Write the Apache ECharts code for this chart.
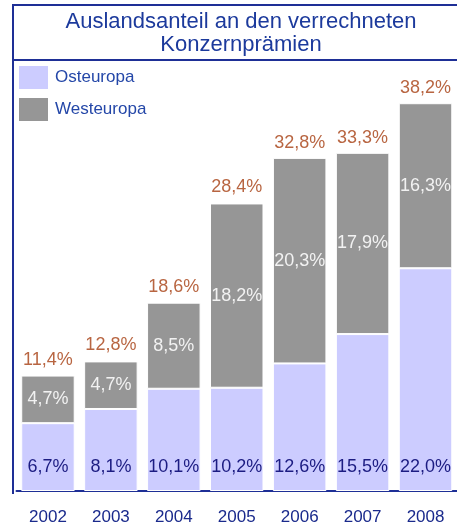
<!DOCTYPE html>
<html>
<head>
<meta charset="utf-8">
<script src="https://cdn.jsdelivr.net/npm/echarts@6/dist/echarts.min.js"></script>
<style>
  html, body { margin: 0; padding: 0; background: #fff; }
  #chart { width: 457px; height: 526px; }
</style>
</head>
<body>
<div id="chart"></div>
<script>
// Daten (Prozent)
const years = ['2002', '2003', '2004', '2005', '2006', '2007', '2008']
const osteuropa = [6.7, 8.1, 10.1, 10.2, 12.6, 15.5, 22.0]
const westeuropa = [4.7, 4.7, 8.5, 18.2, 20.3, 17.9, 16.3]
const gesamt = [11.4, 12.8, 18.6, 28.4, 32.8, 33.3, 38.2]

const fmt = v => v.toFixed(1).replace('.', ',') + '%'
const font = 'Liberation Sans'
const frame = '#1e2f96'

const chart = echarts.init(document.getElementById('chart'))
chart.setOption({
  animation: false,
  title: {
    text: 'Auslandsanteil an den verrechneten\nKonzernprämien',
    left: 236,
    top: 5,
    textAlign: 'center',
    textStyle: {
      fontFamily: font,
      fontSize: 22,
      fontWeight: 'normal',
      lineHeight: 23,
      color: '#1c3a9c'
    }
  },
  legend: {
    data: ['Osteuropa', 'Westeuropa'],
    orient: 'vertical',
    left: 19,
    top: 66,
    padding: 0,
    itemWidth: 29,
    itemHeight: 23,
    itemGap: 9,
    icon: 'rect',
    itemStyle: { borderWidth: 0 },
    textStyle: {
      fontFamily: font,
      fontSize: 17,
      color: '#2447a8',
      padding: [0, 0, 0, 2]
    }
  },
  grid: { left: 16.5, right: 0, top: 86, bottom: 34 },
  xAxis: {
    type: 'category',
    data: years,
    axisLine: { lineStyle: { color: frame, width: 2 } },
    axisTick: { length: 5, lineStyle: { color: frame, width: 1.5 } },
    axisLabel: {
      fontFamily: font,
      fontSize: 17,
      color: '#1a2a8c',
      margin: 18
    }
  },
  yAxis: { type: 'value', min: 0, max: 40, show: false },
  // Rahmen um Titel + linke Achse
  graphic: [
    { type: 'line', shape: { x1: 13, y1: 5, x2: 457, y2: 5 }, style: { stroke: frame, lineWidth: 2 } },
    { type: 'line', shape: { x1: 13, y1: 60, x2: 457, y2: 60 }, style: { stroke: frame, lineWidth: 2 } },
    { type: 'line', shape: { x1: 13, y1: 4, x2: 13, y2: 494 }, style: { stroke: frame, lineWidth: 2 } }
  ],
  series: [
    {
      name: 'Osteuropa',
      type: 'bar',
      stack: 'ausland',
      data: osteuropa,
      barCategoryGap: '15%',
      itemStyle: { color: '#ccccff', borderColor: '#fff', borderWidth: 1 },
      label: {
        show: true,
        position: 'insideBottom',
        distance: 15,
        formatter: p => fmt(p.value),
        fontFamily: font,
        fontSize: 18,
        color: '#1c1c82'
      }
    },
    {
      name: 'Westeuropa',
      type: 'bar',
      stack: 'ausland',
      data: westeuropa,
      itemStyle: { color: '#969696', borderColor: '#fff', borderWidth: 1 },
      label: {
        show: true,
        position: 'inside',
        formatter: p => fmt(p.value),
        fontFamily: font,
        fontSize: 18,
        color: '#f2f2f2'
      }
    },
    {
      name: 'Gesamt',
      type: 'scatter',
      data: gesamt,
      symbolSize: 0,
      label: {
        show: true,
        position: 'top',
        distance: 7,
        formatter: p => fmt(p.value),
        fontFamily: font,
        fontSize: 18,
        color: '#a63f12'
      }
    }
  ]
})
</script>
</body>
</html>
